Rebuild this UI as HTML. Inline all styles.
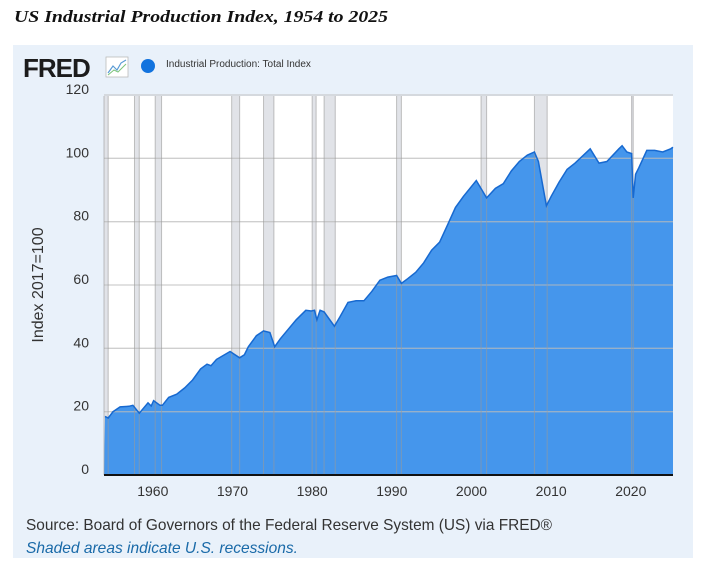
<!DOCTYPE html>
<html><head><meta charset="utf-8"><style>
body{margin:0;width:704px;height:565px;background:#fff;position:relative;overflow:hidden;font-family:"Liberation Sans",sans-serif}
#box{position:absolute;left:13px;top:45px;width:680px;height:513px;background:#e9f1fa}
</style></head><body>
<div id="box"></div>
<svg id="s" width="704" height="565" style="position:absolute;left:0;top:0"></svg>
<script>
const X=t=>105+(t-1954)*7.967, Y=v=>475-v*3.1667;
let h='';
h+='<text x="14" y="22" font-family="Liberation Serif" font-style="italic" font-weight="bold" font-size="17" fill="#111" textLength="374" lengthAdjust="spacingAndGlyphs">US Industrial Production Index, 1954 to 2025</text>';
h+='<text x="23" y="77" font-family="Liberation Sans" font-weight="bold" font-size="26" fill="#1c1c1c" letter-spacing="-1">FRED</text>';
h+='<rect x="106" y="57" width="22" height="20" fill="#fff" stroke="#bbb" stroke-width="0.8"/><polyline points="108,73 113,66 117,70 121,63 126,60" fill="none" stroke="#5a9bd5" stroke-width="1.2"/><polyline points="108,75 114,70 118,72 126,64" fill="none" stroke="#7cc47c" stroke-width="1"/>';
h+='<circle cx="148" cy="66" r="7" fill="#1273de"/>';
h+='<text x="166" y="67" font-size="10" fill="#333" font-family="Liberation Sans">Industrial Production: Total Index</text>';
h+='<rect x="104" y="96" width="569" height="379" fill="#fff"/>';
const rec=[[1953.6,1954.4],[1957.7,1958.3],[1960.3,1961.1],[1969.9,1970.9],[1973.9,1975.2],[1980.0,1980.5],[1981.5,1982.9],[1990.6,1991.2],[2001.2,2001.9],[2007.9,2009.5],[2020.1,2020.3]];
let lines='';
rec.forEach(r=>{let a=Math.max(104,X(r[0])),b=X(r[1]);h+=`<rect x="${a}" y="96" width="${Math.max(b-a,1.5)}" height="379" fill="#e1e3e8"/>`;lines+=`<line x1="${a}" y1="96" x2="${a}" y2="475" stroke="#999" stroke-opacity="0.6" stroke-width="1"/><line x1="${b}" y1="96" x2="${b}" y2="475" stroke="#999" stroke-opacity="0.6" stroke-width="1"/>`;});
let grid='';
[20,40,60,80,100,120].forEach(v=>grid+=`<line x1="104" x2="673" y1="${Y(v)}" y2="${Y(v)}" stroke="#bbb" stroke-opacity="0.7" stroke-width="1.3"/>`);
const d=[[1954,18.5],[1954.4,18],[1955,20],[1955.9,21.5],[1957,21.7],[1957.5,22],[1958.3,19.5],[1959.4,22.8],[1959.8,21.8],[1960.1,23.5],[1960.9,22],[1961.2,22],[1962,24.5],[1963,25.5],[1964,27.5],[1965,30],[1966,33.5],[1966.8,35],[1967.3,34.5],[1968,36.5],[1969.7,39],[1970.9,37],[1971.5,38],[1972,40.5],[1973,44],[1973.9,45.5],[1974.7,45],[1975.3,40.5],[1976,43],[1977,46],[1978,49],[1979.2,52],[1979.9,51.8],[1980.3,52],[1980.6,49],[1981,52],[1981.5,51.5],[1982.8,47],[1983.5,50],[1984.5,54.5],[1985.5,55],[1986.5,55],[1987.5,58],[1988.5,61.5],[1989.5,62.5],[1990.6,63],[1991.2,60.5],[1992,62],[1993,64],[1994,67],[1995,71],[1996,73.5],[1997,79],[1998,84.5],[1999,88],[2000.6,93],[2001.9,87.5],[2003,90.5],[2004,92],[2005,96],[2006,99],[2007,101],[2007.9,102],[2008.4,99],[2009.4,85],[2010,88],[2011,92.5],[2012,96.5],[2013,98.5],[2014.9,103],[2016,98.5],[2017,99],[2018.5,103],[2018.9,104],[2019.5,102],[2020.1,101.5],[2020.3,87.5],[2020.6,95],[2021,97],[2022,102.5],[2023,102.5],[2024,102],[2025,103],[2025.5,103.5]];
let p=d.map(q=>`${Math.min(673,X(q[0])).toFixed(1)},${Y(q[1]).toFixed(1)}`).join(' L');
h+=`<path d="M104,475 L${p} L673,475 Z" fill="#4596ec"/>`+grid+lines+`<path d="M${p}" fill="none" stroke="#1769d0" stroke-width="1.5"/>`;
h+='<line x1="104" x2="673" y1="475" y2="475" stroke="#111" stroke-width="2"/>';
[0,20,40,60,80,100,120].forEach(v=>h+=`<text x="89" y="${Y(v)-1}" text-anchor="end" font-size="14" fill="#333" font-family="Liberation Sans">${v}</text>`);
[1960,1970,1980,1990,2000,2010,2020].forEach(t=>h+=`<text x="${X(t)}" y="496" text-anchor="middle" font-size="14" fill="#333" font-family="Liberation Sans">${t}</text>`);
h+='<text transform="translate(43,285) rotate(-90)" text-anchor="middle" font-size="16" fill="#333" font-family="Liberation Sans">Index 2017=100</text>';
h+='<text x="26" y="530" font-size="16" fill="#333" font-family="Liberation Sans" textLength="526" lengthAdjust="spacingAndGlyphs">Source: Board of Governors of the Federal Reserve System (US) via FRED®</text>';
h+='<text x="26" y="553" font-size="16" font-style="italic" fill="#1a6aa8" font-family="Liberation Sans" textLength="272" lengthAdjust="spacingAndGlyphs">Shaded areas indicate U.S. recessions.</text>';
document.getElementById('s').innerHTML=h;
</script>
</body></html>
